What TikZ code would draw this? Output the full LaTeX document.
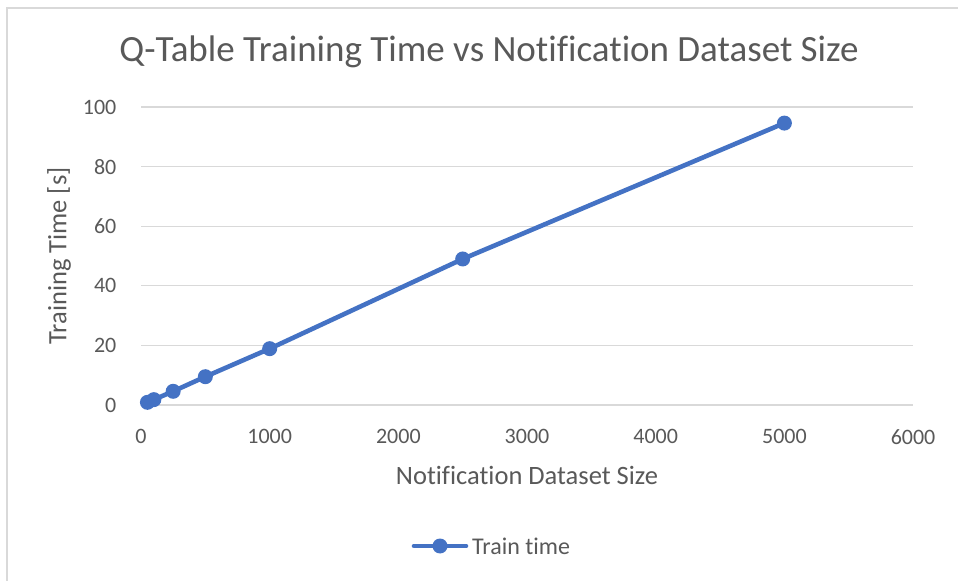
\documentclass[tikz,border=0pt]{standalone}
\usepackage{fontspec}
\setmainfont{Carlito}[Ligatures=NoCommon]
\usetikzlibrary{positioning}
\definecolor{Series}{HTML}{4472C4}
\definecolor{Ink}{HTML}{595959}
\definecolor{Grid}{HTML}{D9D9D9}
\tikzset{
  every node/.append style={text=Ink},
  frame/.style={draw=Grid, line width=1.4pt},
  gridline/.style={draw=Grid, line width=1.1pt},
  ticklbl/.style={font=\fontsize{22}{24}\selectfont, inner sep=0pt},
  axtitle/.style={font=\fontsize{26.5}{28}\selectfont, inner sep=0pt},
  series/.style={draw=Series, line width=4.6pt, line cap=round, line join=round},
  dot/.style={circle, fill=Series, minimum size=15pt, inner sep=0pt},
}
\begin{document}
\begin{tikzpicture}[x=1pt, y=1pt]
  \useasboundingbox (0,0) rectangle (958,581);
  \fill[white] (0,0) rectangle (958,581);
  \coordinate (ftop) at (958,573);
  \coordinate (fcorner) at (7,573);
  \coordinate (fbot) at (7,0);
  \draw[frame] (ftop) -- (fcorner) -- (fbot);
  \node[font=\fontsize{37}{40}\selectfont, inner sep=0pt] (title) at (489,529) {Q-Table Training Time vs Notification Dataset Size};
  % plot area: 0..6000 on x, 0..100 on y
  \begin{scope}[shift={(141,176)}, x=0.12867pt, y=2.98pt]
    \foreach \t in {0,20,...,100} {
      \draw[gridline] (0,\t) -- (6000,\t);
      \node[ticklbl, anchor=east] (ylbl\t) at (-190,\t) {\t};
    }
    \foreach \n in {0,1000,...,6000} {
      \node[ticklbl] (xlbl\n) at (\n,-10.7) {\n};
    }
    \node[dot] (p1) at (50,0.9) {};
    \node[dot] (p2) at (100,1.8) {};
    \node[dot] (p3) at (250,4.6) {};
    \node[dot] (p4) at (500,9.5) {};
    \node[dot] (p5) at (1000,18.9) {};
    \node[dot] (p6) at (2500,49) {};
    \node[dot] (p7) at (5000,94.6) {};
    \draw[series] (p1.center) -- (p2.center) -- (p3.center) -- (p4.center)
      -- (p5.center) -- (p6.center) -- (p7.center);
  \end{scope}
  \node[axtitle] (xtitle) at (527,106) {Notification Dataset Size};
  \node[axtitle, rotate=90] (ytitle) at (59,325) {Training Time [s]};
  % legend
  \node[dot] (legdot) at (440,35) {};
  \coordinate (legl) at (414,35);
  \coordinate (legr) at (466,35);
  \draw[series] (legl) -- (legr);
  \node[axtitle, anchor=west, font=\fontsize{24}{26}\selectfont] (legtxt) at (472,35) {Train time};
\end{tikzpicture}
\end{document}
